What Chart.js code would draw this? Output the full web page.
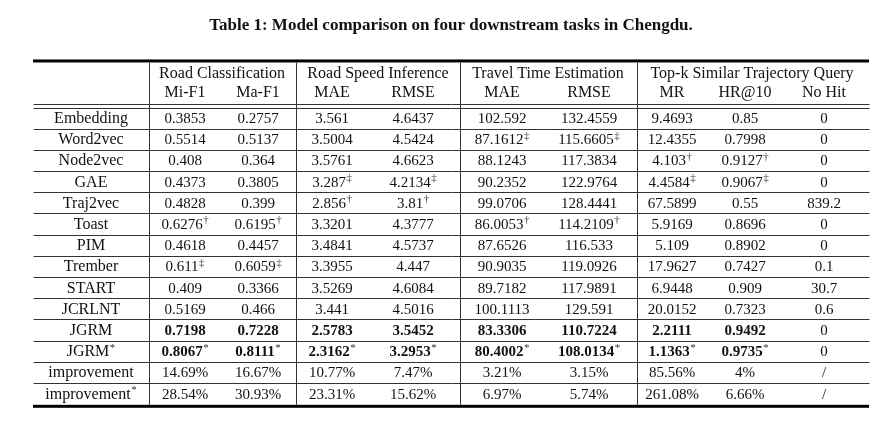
<!DOCTYPE html>
<html>
<head>
<meta charset="utf-8">
<script src="https://cdn.jsdelivr.net/npm/chart.js@4.4.0/dist/chart.umd.min.js"></script>
<style>
  html, body { margin: 0; padding: 0; background: #fff; }
  canvas { display: block; }
</style>
</head>
<body>
<canvas id="table" width="890" height="426"></canvas>
<script>
// ---- table data ----
const tableTitle = "Table 1: Model comparison on four downstream tasks in Chengdu.";
const taskGroups = ["Road Classification", "Road Speed Inference", "Travel Time Estimation", "Top-k Similar Trajectory Query"];
const metrics = ["Mi-F1", "Ma-F1", "MAE", "RMSE", "MAE", "RMSE", "MR", "HR@10", "No Hit"];
const models = ["Embedding", "Word2vec", "Node2vec", "GAE", "Traj2vec", "Toast", "PIM", "Trember", "START", "JCRLNT", "JGRM", "JGRM*", "improvement", "improvement*"];

const roadMiF1 = ["0.3853", "0.5514", "0.408", "0.4373", "0.4828", "0.6276†", "0.4618", "0.611‡", "0.409", "0.5169", "0.7198", "0.8067*", "14.69%", "28.54%"];
const roadMaF1 = ["0.2757", "0.5137", "0.364", "0.3805", "0.399", "0.6195†", "0.4457", "0.6059‡", "0.3366", "0.466", "0.7228", "0.8111*", "16.67%", "30.93%"];
const speedMAE = ["3.561", "3.5004", "3.5761", "3.287‡", "2.856†", "3.3201", "3.4841", "3.3955", "3.5269", "3.441", "2.5783", "2.3162*", "10.77%", "23.31%"];
const speedRMSE = ["4.6437", "4.5424", "4.6623", "4.2134‡", "3.81†", "4.3777", "4.5737", "4.447", "4.6084", "4.5016", "3.5452", "3.2953*", "7.47%", "15.62%"];
const travelMAE = ["102.592", "87.1612‡", "88.1243", "90.2352", "99.0706", "86.0053†", "87.6526", "90.9035", "89.7182", "100.1113", "83.3306", "80.4002*", "3.21%", "6.97%"];
const travelRMSE = ["132.4559", "115.6605‡", "117.3834", "122.9764", "128.4441", "114.2109†", "116.533", "119.0926", "117.9891", "129.591", "110.7224", "108.0134*", "3.15%", "5.74%"];
const simMR = ["9.4693", "12.4355", "4.103†", "4.4584‡", "67.5899", "5.9169", "5.109", "17.9627", "6.9448", "20.0152", "2.2111", "1.1363*", "85.56%", "261.08%"];
const simHR10 = ["0.85", "0.7998", "0.9127†", "0.9067‡", "0.55", "0.8696", "0.8902", "0.7427", "0.909", "0.7323", "0.9492", "0.9735*", "4%", "6.66%"];
const simNoHit = ["0", "0", "0", "0", "839.2", "0", "0", "0.1", "30.7", "0.6", "0", "0", "/", "/"];

const boldModels = ["JGRM", "JGRM*"];

// ---- layout (page units on the x scale, row units on the y scale) ----
const columns = [models, roadMiF1, roadMaF1, speedMAE, speedRMSE, travelMAE, travelRMSE, simMR, simHR10, simNoHit];
const colCenter = [91, 185, 258, 332, 413, 502, 589, 672, 745, 824];
const groupCenter = [222, 378, 548, 752];
const dividers = [149, 296, 460, 637];
const tableLeft = 33, tableRight = 869;
const groupRow = -2.12, metricRow = -1.23;
const topRule = -2.69, headRule1 = -0.66, headRule2 = -0.47, bottomRule = 13.6;

const FONT = "'Liberation Serif', 'Times New Roman', serif";

function splitMark(s) {
  const last = s.slice(-1);
  if (last === "†" || last === "‡" || (last === "*" && s.length > 1)) return [s.slice(0, -1), last];
  return [s, ""];
}

function drawCell(ctx, text, x, y, bold, size) {
  const [main, mark] = splitMark(text);
  const mainFont = (bold ? "bold " : "") + size + "px " + FONT;
  ctx.font = mainFont;
  const w1 = ctx.measureText(main).width;
  let w2 = 0;
  if (mark) {
    ctx.font = "11px " + FONT;
    w2 = ctx.measureText(mark).width + 0.5;
  }
  const left = x - (w1 + w2) / 2;
  ctx.textAlign = "left";
  ctx.textBaseline = "alphabetic";
  ctx.fillStyle = "#111";
  ctx.font = mainFont;
  ctx.fillText(main, left, y + 5);
  if (mark) {
    ctx.font = "11px " + FONT;
    ctx.fillStyle = "#333";
    ctx.fillText(mark, left + w1 + 0.5, y - 0.5);
  }
}

const tablePlugin = {
  id: "tablePlugin",
  beforeDatasetsDraw(chart) {
    const ctx = chart.ctx;
    const xs = chart.scales.x, ys = chart.scales.y;
    const px = v => Math.round(xs.getPixelForValue(v)) + 0.5;
    const py = v => Math.round(ys.getPixelForValue(v)) + 0.5;
    ctx.save();
    // thick top & bottom rules
    ctx.fillStyle = "#000";
    [topRule, bottomRule].forEach(r => {
      const y = ys.getPixelForValue(r);
      ctx.fillRect(xs.getPixelForValue(tableLeft), y - 1.5, xs.getPixelForValue(tableRight) - xs.getPixelForValue(tableLeft), 3);
    });
    ctx.lineWidth = 1;
    ctx.strokeStyle = "#333";
    ctx.beginPath();
    // double rule under header
    [headRule1, headRule2].forEach(r => {
      ctx.moveTo(px(tableLeft), py(r));
      ctx.lineTo(px(tableRight), py(r));
    });
    // row separators
    for (let i = 0; i < models.length - 1; i++) {
      ctx.moveTo(px(tableLeft), py(i + 0.5));
      ctx.lineTo(px(tableRight), py(i + 0.5));
    }
    // vertical dividers
    dividers.forEach(d => {
      ctx.moveTo(px(d), ys.getPixelForValue(topRule) + 1.5);
      ctx.lineTo(px(d), ys.getPixelForValue(bottomRule) - 1.5);
    });
    ctx.stroke();
    // headers
    taskGroups.forEach((g, i) => drawCell(ctx, g, xs.getPixelForValue(groupCenter[i]), ys.getPixelForValue(groupRow), false, 16));
    metrics.forEach((m, i) => drawCell(ctx, m, xs.getPixelForValue(colCenter[i + 1]), ys.getPixelForValue(metricRow), false, 16));
    ctx.restore();
  },
  afterDatasetsDraw(chart) {
    const ctx = chart.ctx;
    ctx.save();
    chart.data.datasets.forEach((ds, c) => {
      const meta = chart.getDatasetMeta(c);
      meta.data.forEach((el, r) => {
        const bold = c > 0 && c < columns.length - 1 && boldModels.includes(models[r]);
        drawCell(ctx, ds.cells[r], el.x, el.y, bold, c === 0 ? 16 : 15);
      });
    });
    ctx.restore();
  }
};

new Chart(document.getElementById("table"), {
  type: "scatter",
  data: {
    datasets: columns.map((col, c) => ({
      label: c === 0 ? "Model" : metrics[c - 1],
      cells: col,
      data: col.map((v, r) => ({ x: colCenter[c], y: r })),
      pointRadius: 0,
      pointHoverRadius: 0
    }))
  },
  options: {
    responsive: false,
    animation: false,
    events: [],
    layout: { padding: { left: 12, right: 0, top: 0, bottom: 0 } },
    plugins: {
      legend: { display: false },
      tooltip: { enabled: false },
      title: {
        display: true,
        text: tableTitle,
        color: "#111",
        font: { family: FONT, size: 17, weight: "bold", lineHeight: 1.2 },
        padding: { top: 15, bottom: 0 }
      }
    },
    scales: {
      x: { type: "linear", display: false, min: 12, max: 890 },
      y: { type: "linear", display: false, reverse: true, min: -3.896, max: 14.529 }
    }
  },
  plugins: [tablePlugin]
});
</script>
</body>
</html>
